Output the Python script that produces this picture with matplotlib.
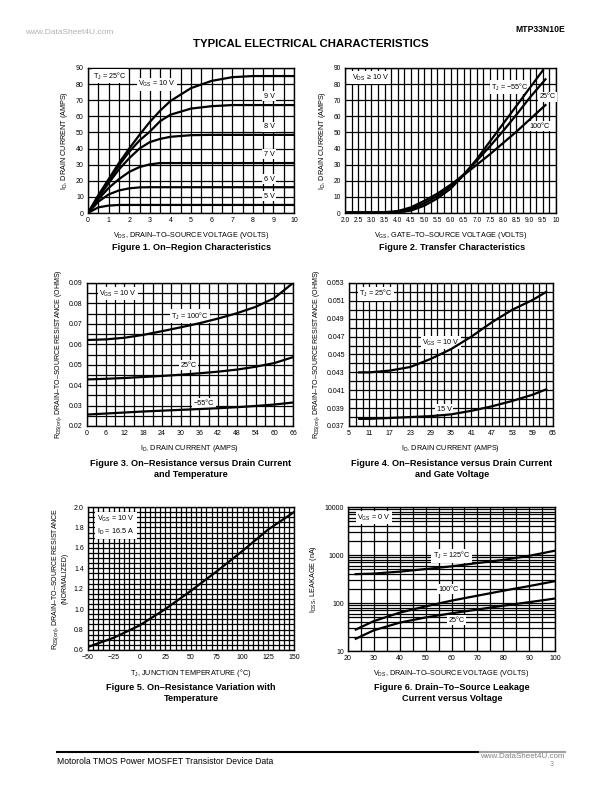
import numpy as np
import matplotlib
matplotlib.use("Agg")
from matplotlib import pyplot as plt
from matplotlib.ticker import MultipleLocator, LogLocator, NullFormatter, FixedLocator

plt.rcParams["font.family"] = ["Liberation Sans", "DejaVu Sans"]
plt.rcParams["mathtext.fontset"] = "custom"
plt.rcParams["mathtext.rm"] = "Liberation Sans"
plt.rcParams["mathtext.it"] = "Liberation Sans"

# ---- Figure 1: on-region characteristics
vds1 = [0, 0.5, 1, 1.5, 2, 2.5, 3, 3.5, 4, 5, 6, 7, 8, 9, 10]
id_10v = [0, 11, 21, 31, 40, 48.5, 56.5, 63.5, 69.5, 77.5, 82, 84.3, 85, 85, 85]
id_9v = [0, 10.5, 20, 29.5, 38, 45, 50.5, 57, 61, 64.8, 66.3, 67, 67, 67, 67]
id_8v = [0, 9.5, 18.5, 27, 34, 40, 44, 46, 47.3, 48.3, 48.5, 48.5, 48.5, 48.5, 48.5]
id_7v = [0, 8.5, 15.5, 21, 25.5, 28.5, 30.2, 31, 31, 31, 31, 31, 31, 31, 31]
id_6v = [0, 7, 11.5, 14, 15.3, 15.9, 16, 16, 16, 16, 16, 16, 16, 16, 16]
id_5v = [0, 3.5, 4.6, 5, 5, 5, 5, 5, 5, 5, 5, 5, 5, 5, 5]

# ---- Figure 2: transfer characteristics
vgs2 = [2.0, 3.0, 3.5, 4.0, 4.5, 5.0, 5.5, 6.0, 6.5, 7.0, 7.5, 8.0, 8.5, 9.0, 9.5]
id_m55 = [0.2, 0.2, 0.2, 0.4, 1.5, 4.5, 9, 15, 23.5, 33.5, 44.5, 55.5, 66.5, 77.5, 88.5]
vgs2b = [2.0, 3.0, 3.5, 4.0, 4.5, 5.0, 5.5, 6.0, 6.5, 7.0, 7.5, 8.0, 8.5, 9.0, 9.6]
id_25 = [0.3, 0.3, 0.3, 0.7, 2.5, 6, 10.5, 16.5, 24, 32.5, 41.5, 51, 61, 71.5, 83]
id_100 = [0.4, 0.4, 0.5, 1.2, 3.5, 7.5, 12, 17.5, 23.5, 30, 36.5, 43.5, 50.5, 58, 67]

# ---- Figure 3: on-resistance vs drain current and temperature
id3 = [0, 6, 12, 18, 24, 30, 36, 42, 48, 54, 60, 66]
r3_100 = [0.0621, 0.0624, 0.0632, 0.0646, 0.0664, 0.0683, 0.0703, 0.0726, 0.0752, 0.0783, 0.0826, 0.0900]
r3_25 = [0.0428, 0.0431, 0.0435, 0.0440, 0.0445, 0.0451, 0.0458, 0.0466, 0.0476, 0.0490, 0.0508, 0.0537]
r3_m55 = [0.0256, 0.0261, 0.0266, 0.0271, 0.0275, 0.0279, 0.0283, 0.0287, 0.0292, 0.0298, 0.0305, 0.0315]

# ---- Figure 4: on-resistance vs drain current and gate voltage
id4 = [8, 11, 17, 23, 29, 35, 41, 47, 53, 59, 63]
r4_10v = [0.0430, 0.0430, 0.0432, 0.0436, 0.0445, 0.0456, 0.0470, 0.0486, 0.0500, 0.0511, 0.0520]
r4_15v = [0.0378, 0.0378, 0.0379, 0.0380, 0.0381, 0.0383, 0.0387, 0.0392, 0.0398, 0.0405, 0.0411]

# ---- Figure 5: normalized on-resistance vs temperature
tj5 = [-50, -25, 0, 25, 50, 75, 100, 125, 150]
rn5 = [0.63, 0.72, 0.84, 1.00, 1.18, 1.37, 1.57, 1.78, 1.95]

# ---- Figure 6: drain-to-source leakage vs voltage
vds6 = [23, 30, 40, 50, 60, 70, 80, 90, 100]
idss_125 = [400, 410, 450, 510, 580, 680, 790, 960, 1230]
idss_100 = [28, 42, 63, 85, 112, 142, 180, 225, 285]
idss_25 = [18, 27, 39, 50, 61, 73, 88, 104, 124]

W, H = 612, 792
fig = plt.figure(figsize=(W / 100, H / 100), dpi=100)


def axes_px(x0, y0, x1, y1):
    return fig.add_axes([x0 / W, 1 - y1 / H, (x1 - x0) / W, (y1 - y0) / H])


def style(ax, xmaj, xgrid, ygrid, fs=5):
    ax.xaxis.set_major_locator(xmaj)
    ax.xaxis.set_minor_locator(xgrid)
    if ygrid is not None:
        ax.yaxis.set_minor_locator(ygrid)
    ax.grid(True, which="both", color="black", lw=0.9, zorder=1)
    ax.tick_params(which="both", length=0, labelsize=fs, pad=3)
    for s in ax.spines.values():
        s.set_linewidth(1.0)
    ax.set_axisbelow(True)


def label(ax, x, y, s, ha="center", fs=5.2):
    # box hides the grid, curves stay on top
    ax.text(x, y, s, ha=ha, va="center", fontsize=fs, zorder=3,
            bbox=dict(fc="white", ec="none", pad=1.0))


CW = 1.6

# Figure 1
ax1 = axes_px(88, 68, 294, 213)
for ys in [id_10v, id_9v, id_8v, id_7v, id_6v, id_5v]:
    ax1.plot(vds1, ys, color="black", lw=CW, zorder=4)
ax1.set_xlim(0, 10)
ax1.set_ylim(0, 90)
ax1.yaxis.set_major_locator(MultipleLocator(10))
style(ax1, MultipleLocator(1), MultipleLocator(0.5), None)
label(ax1, 0.25, 85, r"$\mathregular{T_J}$ = 25°C", ha="left")
label(ax1, 3.35, 80, r"$\mathregular{V_{GS}}$ = 10 V")
for y, s in [(72.5, "9 V"), (53.5, "8 V"), (36.5, "7 V"), (21, "6 V"), (10.5, "5 V")]:
    label(ax1, 8.8, y, s)
ax1.set_xlabel(r"$\mathregular{V_{DS}}$, DRAIN–TO–SOURCE VOLTAGE (VOLTS)", fontsize=5.2, labelpad=4)
ax1.set_ylabel(r"$\mathregular{I_D}$, DRAIN CURRENT (AMPS)", fontsize=5.2, labelpad=4)

# Figure 2
ax2 = axes_px(345, 68, 556, 213)
ax2.plot(vgs2, id_m55, color="black", lw=CW, zorder=4)
ax2.plot(vgs2b, id_25, color="black", lw=CW, zorder=4)
ax2.plot(vgs2b, id_100, color="black", lw=CW, zorder=4)
ax2.set_xlim(2, 10)
ax2.set_ylim(0, 90)
ax2.yaxis.set_major_locator(MultipleLocator(10))
style(ax2, MultipleLocator(0.5), MultipleLocator(0.25), None, fs=4.8)
ax2.set_xticks(np.arange(2, 10.01, 0.5))
ax2.set_xticklabels([f"{v:.1f}" for v in np.arange(2, 9.51, 0.5)] + ["10"])
label(ax2, 2.25, 84, r"$\mathregular{V_{DS}}$ ≥ 10 V", ha="left")
label(ax2, 8.25, 78, r"$\mathregular{T_J}$ = −55°C")
label(ax2, 9.68, 72, "25°C")
label(ax2, 9.37, 54, "100°C")
ax2.set_xlabel(r"$\mathregular{V_{GS}}$, GATE–TO–SOURCE VOLTAGE (VOLTS)", fontsize=5.2, labelpad=4)
ax2.set_ylabel(r"$\mathregular{I_D}$, DRAIN CURRENT (AMPS)", fontsize=5.2, labelpad=4)

# Figure 3
ax3 = axes_px(87, 283, 293, 426)
for ys in [r3_100, r3_25, r3_m55]:
    ax3.plot(id3, ys, color="black", lw=CW, zorder=4)
ax3.set_xlim(0, 66)
ax3.set_ylim(0.02, 0.09)
ax3.yaxis.set_major_locator(MultipleLocator(0.01))
ax3.yaxis.set_major_formatter(plt.FuncFormatter(lambda v, p: f"{v:.2f}"))
style(ax3, MultipleLocator(6), MultipleLocator(3), MultipleLocator(0.005))
label(ax3, 10, 0.0848, r"$\mathregular{V_{GS}}$ = 10 V")
label(ax3, 33, 0.0737, r"$\mathregular{T_J}$ = 100°C")
label(ax3, 32.5, 0.0497, "25°C")
label(ax3, 37.5, 0.0312, "−55°C")
ax3.set_xlabel(r"$\mathregular{I_D}$, DRAIN CURRENT (AMPS)", fontsize=5.2, labelpad=4)
ax3.set_ylabel(r"$\mathregular{R_{DS(on)}}$, DRAIN–TO–SOURCE RESISTANCE (OHMS)", fontsize=5.0, labelpad=4)

# Figure 4
ax4 = axes_px(349, 283, 553, 426)
ax4.plot(id4, r4_10v, color="black", lw=CW, zorder=4)
ax4.plot(id4, r4_15v, color="black", lw=CW, zorder=4)
ax4.set_xlim(5, 65)
ax4.set_ylim(0.037, 0.053)
ax4.yaxis.set_major_locator(FixedLocator(np.arange(0.037, 0.0531, 0.002)))
ax4.yaxis.set_major_formatter(plt.FuncFormatter(lambda v, p: f"{v:.3f}"))
style(ax4, FixedLocator(np.arange(5, 66, 6)), FixedLocator(np.arange(5, 66, 2)),
      MultipleLocator(0.001))
label(ax4, 13, 0.0518, r"$\mathregular{T_J}$ = 25°C")
label(ax4, 32, 0.0463, r"$\mathregular{V_{GS}}$ = 10 V")
label(ax4, 33, 0.0389, "15 V")
ax4.set_xlabel(r"$\mathregular{I_D}$, DRAIN CURRENT (AMPS)", fontsize=5.2, labelpad=4)
ax4.set_ylabel(r"$\mathregular{R_{DS(on)}}$, DRAIN–TO–SOURCE RESISTANCE (OHMS)", fontsize=5.0, labelpad=4)

# Figure 5
ax5 = axes_px(88, 507, 294, 650)
ax5.plot(tj5, rn5, color="black", lw=CW, zorder=4)
ax5.set_xlim(-50, 150)
ax5.set_ylim(0.6, 2.0)
ax5.yaxis.set_major_locator(MultipleLocator(0.2))
ax5.yaxis.set_major_formatter(plt.FuncFormatter(lambda v, p: f"{v:.1f}"))
ax5.xaxis.set_major_formatter(plt.FuncFormatter(lambda v, p: f"{v:.0f}".replace("-", "−")))
style(ax5, MultipleLocator(25), MultipleLocator(5), MultipleLocator(0.05))
ax5.text(-41, 1.82, "$\\mathregular{V_{GS}}$ = 10 V\n$\\mathregular{I_D}$ = 16.5 A", ha="left",
         va="center", fontsize=5.2, zorder=3, linespacing=1.4,
         bbox=dict(fc="white", ec="none", pad=1.5))
ax5.set_xlabel(r"$\mathregular{T_J}$, JUNCTION TEMPERATURE (°C)", fontsize=5.2, labelpad=4)
ax5.set_ylabel("$\\mathregular{R_{DS(on)}}$, DRAIN–TO–SOURCE RESISTANCE\n(NORMALIZED)",
               fontsize=5.0, labelpad=4, linespacing=1.1)

# Figure 6
ax6 = axes_px(348, 507, 555, 651)
for ys in [idss_125, idss_100, idss_25]:
    ax6.plot(vds6, ys, color="black", lw=CW, zorder=4)
ax6.set_yscale("log")
ax6.set_xlim(20, 100)
ax6.set_ylim(10, 10000)
ax6.yaxis.set_major_locator(FixedLocator([10, 100, 1000, 10000]))
ax6.yaxis.set_major_formatter(plt.FuncFormatter(lambda v, p: f"{v:.0f}"))
style(ax6, MultipleLocator(10), MultipleLocator(5),
      LogLocator(base=10, subs=np.arange(2, 10)))
ax6.yaxis.set_minor_formatter(NullFormatter())
label(ax6, 30, 6000, r"$\mathregular{V_{GS}}$ = 0 V")
label(ax6, 60, 960, r"$\mathregular{T_J}$ = 125°C")
label(ax6, 59, 195, "100°C")
label(ax6, 62, 44, "25°C")
ax6.set_xlabel(r"$\mathregular{V_{DS}}$, DRAIN–TO–SOURCE VOLTAGE (VOLTS)", fontsize=5.2, labelpad=4)
ax6.set_ylabel(r"$\mathregular{I_{DSS}}$, LEAKAGE (nA)", fontsize=5.2, labelpad=4)

# page text
fig.text(25 / W, 1 - 33 / H, "www.DataSheet4U.com", fontsize=6, color="#b0b0b0", va="center")
fig.text(565 / W, 1 - 29 / H, "MTP33N10E", fontsize=6.2, fontweight="bold", ha="right", va="center")
fig.text(311 / W, 1 - 44 / H, "TYPICAL ELECTRICAL CHARACTERISTICS", fontsize=8.2,
         fontweight="bold", ha="center", va="center")

caps = [
    (191, 248, "Figure 1. On–Region Characteristics"),
    (452, 248, "Figure 2. Transfer Characteristics"),
    (191, 469, "Figure 3. On–Resistance versus Drain Current\nand Temperature"),
    (452, 469, "Figure 4. On–Resistance versus Drain Current\nand Gate Voltage"),
    (191, 693, "Figure 5. On–Resistance Variation with\nTemperature"),
    (452, 693, "Figure 6. Drain–To–Source Leakage\nCurrent versus Voltage"),
]
for x, y, s in caps:
    fig.text(x / W, 1 - y / H, s, fontsize=6.6, fontweight="bold", ha="center",
             va="center", linespacing=1.3)

fig.add_artist(plt.Line2D([57 / W, 480 / W], [1 - 752 / H] * 2, color="black", lw=1.5))
fig.add_artist(plt.Line2D([480 / W, 565 / W], [1 - 752 / H] * 2, color="#a0a0a0", lw=1.5))
fig.text(57 / W, 1 - 761 / H, "Motorola TMOS Power MOSFET Transistor Device Data",
         fontsize=6.2, va="center")
fig.text(565 / W, 1 - 757 / H, "www.DataSheet4U.com", fontsize=5.8, color="#808080",
         ha="right", va="center")
fig.text(552 / W, 1 - 764 / H, "3", fontsize=5, color="#909090", ha="center", va="center")

fig.savefig("out.png", dpi=100)
